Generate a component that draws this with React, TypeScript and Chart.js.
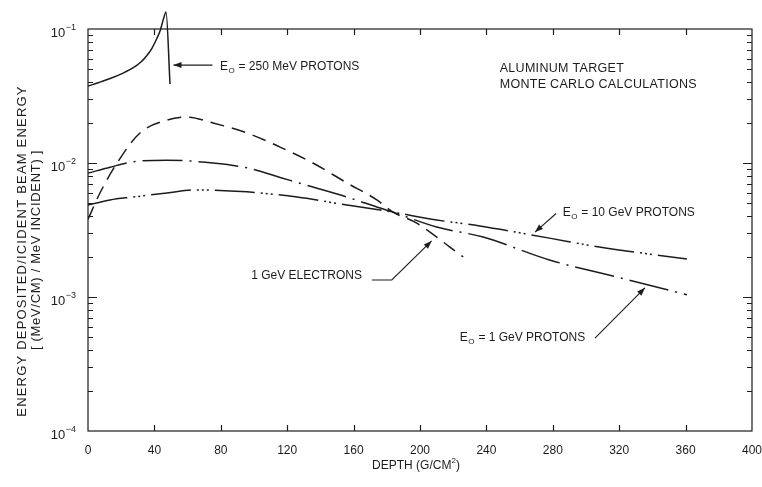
import React, { useEffect, useRef } from 'react';
import { Chart, registerables } from 'chart.js';

Chart.register(...registerables);

// ---------- data ----------
const depthTicks = [0, 40, 80, 120, 160, 200, 240, 280, 320, 360, 400];
const decadeValues = [1e-4, 1e-3, 1e-2, 1e-1];
const decadeExponents = ['\u22124', '\u22123', '\u22122', '\u22121'];

const protons250Depth = [0, 6.6, 13.3, 20.5, 27.1, 31.9, 35.5, 38.6, 41.6, 43.4, 44.6, 45.8, 47.0, 49.4];
const protons250Energy = [0.0375, 0.0399, 0.0427, 0.0465, 0.0512, 0.0567, 0.0634, 0.0721, 0.0857, 0.0966, 0.109, 0.1229, 0.134, 0.0389];

const electronsDepth = [0, 7.2, 17.5, 31.3, 47.6, 59.6, 75.3, 95.8, 115.7, 135.5, 156, 174, 183.7, 198, 218, 226];
const electronsEnergy = [0.0038, 0.00597, 0.01, 0.01675, 0.0209, 0.022, 0.0199, 0.01675, 0.01315, 0.01, 0.0071, 0.0053, 0.0043, 0.00356, 0.00236, 0.00199];

const protons1GeVDepth = [0, 13.3, 27, 47.6, 75.3, 95.8, 115.7, 135.5, 156, 176, 183.7, 210, 238, 278, 318.7, 360.8];
const protons1GeVEnergy = [0.0084, 0.0093, 0.0102, 0.0105, 0.01, 0.0092, 0.0078, 0.00662, 0.00557, 0.00461, 0.0043, 0.00333, 0.0028, 0.00189, 0.00141, 0.00104];

const protons10GeVDepth = [0, 13.3, 27, 47.6, 65.7, 95.8, 126, 156, 176, 183.7, 210, 236, 278, 308, 360.8];
const protons10GeVEnergy = [0.00486, 0.0053, 0.00557, 0.00597, 0.0063, 0.00609, 0.00557, 0.00486, 0.00446, 0.0043, 0.00376, 0.00339, 0.00275, 0.00236, 0.00192];

const yTitleLines = ['ENERGY DEPOSITED/ICIDENT BEAM ENERGY', '[ (MeV/CM) / MeV INCIDENT) ]'];
const xTitleParts = ['DEPTH (G/CM', '2', ')'];
const annotationTexts = {
  p250: ' = 250 MeV PROTONS',
  target: ['ALUMINUM TARGET', 'MONTE CARLO CALCULATIONS'],
  p10: ' = 10 GeV PROTONS',
  e1: '1 GeV ELECTRONS',
  p1: ' = 1 GeV PROTONS',
};

// ---------- layout / style (data coordinates for annotation anchors) ----------
const annotationLayout = {
  p250: { label: [79.5, 0.052], arrow: [[75, 0.0538], [51.5, 0.0538]] },
  target: { lines: [[248, 0.0503], [248, 0.0382]] },
  p10: { label: [286, 0.00424], arrow: [[282, 0.0042], [269.3, 0.00305]] },
  e1: { labelRight: [165, 0.00144], arrow: [[171, 0.00134], [183, 0.00134], [207, 0.00262]] },
  p1: { label: [224, 0.000494], arrow: [[305.4, 0.000494], [335.5, 0.00117]] },
};

const INK = '#1c1c1c';
const FONT = '"Liberation Sans", Arial, sans-serif';

const toPoints = (xs: number[], ys: number[]) => xs.map((x, i) => ({ x, y: ys[i] }));

function arrowHead(ctx: CanvasRenderingContext2D, fx: number, fy: number, tx: number, ty: number, len = 8, half = 3) {
  const a = Math.atan2(ty - fy, tx - fx);
  const c = Math.cos(a), s = Math.sin(a);
  ctx.beginPath();
  ctx.moveTo(tx, ty);
  ctx.lineTo(tx - len * c + half * s, ty - len * s - half * c);
  ctx.lineTo(tx - len * c - half * s, ty - len * s + half * c);
  ctx.closePath();
  ctx.fill();
}

function energyLabel(ctx: CanvasRenderingContext2D, x: number, y: number, rest: string) {
  ctx.textAlign = 'left';
  ctx.textBaseline = 'middle';
  ctx.font = `12px ${FONT}`;
  ctx.fillText('E', x, y);
  const w = ctx.measureText('E').width;
  ctx.font = `8px ${FONT}`;
  ctx.fillText('O', x + w + 0.5, y + 4);
  const w2 = ctx.measureText('O').width;
  ctx.font = `12px ${FONT}`;
  ctx.fillText(rest, x + w + w2 + 1, y);
}

const decorPlugin = {
  id: 'decor',
  afterDatasetsDraw(chart: any) {
    const { ctx, chartArea: a, scales } = chart;
    const xs = scales.x, ys = scales.y;
    const X = (v: number) => xs.getPixelForValue(v);
    const Y = (v: number) => ys.getPixelForValue(v);
    ctx.save();
    ctx.strokeStyle = INK;
    ctx.fillStyle = INK;
    ctx.lineWidth = 1.2;
    ctx.strokeRect(a.left, a.top, a.right - a.left, a.bottom - a.top);

    // x ticks (inside, bottom and top)
    ctx.beginPath();
    depthTicks.forEach((v) => {
      if (v === depthTicks[0] || v === depthTicks[depthTicks.length - 1]) return;
      const px = Math.round(X(v)) + 0.5;
      ctx.moveTo(px, a.bottom); ctx.lineTo(px, a.bottom - 6);
      ctx.moveTo(px, a.top); ctx.lineTo(px, a.top + 6);
    });
    // y ticks (inside, left and right)
    decadeValues.forEach((d, i) => {
      if (i === decadeValues.length - 1) return;
      for (let m = 1; m <= 9; m++) {
        const v = d * m;
        const py = Math.round(Y(v)) + 0.5;
        const len = m === 1 ? 9 : 5;
        if (m === 1 && i === 0) continue;
        ctx.moveTo(a.left, py); ctx.lineTo(a.left + len, py);
        ctx.moveTo(a.right, py); ctx.lineTo(a.right - len, py);
      }
    });
    ctx.stroke();

    // x tick labels
    ctx.font = `12px ${FONT}`;
    ctx.textAlign = 'center';
    ctx.textBaseline = 'middle';
    depthTicks.forEach((v) => ctx.fillText(String(v), X(v), a.bottom + 20));

    // y tick labels 10^-n
    decadeValues.forEach((d, i) => {
      const py = Y(d) + 4;
      const right = a.left - 12;
      ctx.font = `9px ${FONT}`;
      ctx.textAlign = 'right';
      ctx.textBaseline = 'middle';
      const sw = ctx.measureText(decadeExponents[i]).width;
      ctx.fillText(decadeExponents[i], right, py - 5);
      ctx.font = `13px ${FONT}`;
      ctx.fillText('10', right - sw - 0.5, py);
    });

    // axis titles
    ctx.save();
    ctx.translate(22, 251);
    ctx.rotate(-Math.PI / 2);
    ctx.textAlign = 'center';
    ctx.textBaseline = 'middle';
    ctx.font = `13px ${FONT}`;
    (ctx as any).letterSpacing = '1.2px';
    ctx.fillText(yTitleLines[0], 0, 0);
    ctx.restore();
    ctx.save();
    ctx.translate(36, 250);
    ctx.rotate(-Math.PI / 2);
    ctx.textAlign = 'center';
    ctx.textBaseline = 'middle';
    ctx.font = `13px ${FONT}`;
    (ctx as any).letterSpacing = '0.7px';
    ctx.fillText(yTitleLines[1], 0, 0);
    ctx.restore();

    ctx.textBaseline = 'middle';
    ctx.textAlign = 'left';
    ctx.font = `12px ${FONT}`;
    const w0 = ctx.measureText(xTitleParts[0]).width;
    const w2 = ctx.measureText(xTitleParts[2]).width;
    ctx.font = `8px ${FONT}`;
    const w1 = ctx.measureText(xTitleParts[1]).width;
    const cx = (a.left + a.right) / 2 - 4;
    const tx = cx - (w0 + w1 + w2) / 2;
    const ty = a.bottom + 35;
    ctx.font = `12px ${FONT}`;
    ctx.fillText(xTitleParts[0], tx, ty);
    ctx.font = `8px ${FONT}`;
    ctx.fillText(xTitleParts[1], tx + w0, ty - 5);
    ctx.font = `12px ${FONT}`;
    ctx.fillText(xTitleParts[2], tx + w0 + w1, ty);

    // annotations
    ctx.lineWidth = 1.1;
    const L = annotationLayout;
    // 250 MeV
    energyLabel(ctx, X(L.p250.label[0]), Y(L.p250.label[1]), annotationTexts.p250);
    {
      const [f, t] = L.p250.arrow;
      ctx.beginPath(); ctx.moveTo(X(f[0]), Y(f[1])); ctx.lineTo(X(t[0]), Y(t[1])); ctx.stroke();
      arrowHead(ctx, X(f[0]), Y(f[1]), X(t[0]), Y(t[1]));
    }
    // target text
    ctx.save();
    ctx.font = `12.5px ${FONT}`;
    (ctx as any).letterSpacing = '0.3px';
    ctx.textAlign = 'left';
    ctx.textBaseline = 'middle';
    L.target.lines.forEach((p, i) => ctx.fillText(annotationTexts.target[i], X(p[0]), Y(p[1])));
    ctx.restore();
    // 10 GeV
    energyLabel(ctx, X(L.p10.label[0]), Y(L.p10.label[1]), annotationTexts.p10);
    {
      const [f, t] = L.p10.arrow;
      ctx.beginPath(); ctx.moveTo(X(f[0]), Y(f[1])); ctx.lineTo(X(t[0]), Y(t[1])); ctx.stroke();
      arrowHead(ctx, X(f[0]), Y(f[1]), X(t[0]), Y(t[1]));
    }
    // electrons
    ctx.font = `12px ${FONT}`;
    ctx.textAlign = 'right';
    ctx.textBaseline = 'middle';
    ctx.fillText(annotationTexts.e1, X(L.e1.labelRight[0]), Y(L.e1.labelRight[1]));
    {
      const pts = L.e1.arrow;
      ctx.beginPath();
      pts.forEach((p, i) => (i ? ctx.lineTo(X(p[0]), Y(p[1])) : ctx.moveTo(X(p[0]), Y(p[1]))));
      ctx.stroke();
      const f = pts[pts.length - 2], t = pts[pts.length - 1];
      arrowHead(ctx, X(f[0]), Y(f[1]), X(t[0]), Y(t[1]));
    }
    // 1 GeV
    energyLabel(ctx, X(L.p1.label[0]), Y(L.p1.label[1]), annotationTexts.p1);
    {
      const [f, t] = L.p1.arrow;
      ctx.beginPath(); ctx.moveTo(X(f[0]), Y(f[1])); ctx.lineTo(X(t[0]), Y(t[1])); ctx.stroke();
      arrowHead(ctx, X(f[0]), Y(f[1]), X(t[0]), Y(t[1]));
    }
    ctx.restore();
  },
};

export default function App() {
  const ref = useRef<HTMLCanvasElement | null>(null);
  useEffect(() => {
    document.body.style.margin = '0';
    const canvas = ref.current;
    if (!canvas) return;
    const common = { borderColor: INK, borderWidth: 1.5, pointRadius: 0, cubicInterpolationMode: 'monotone' as const, fill: false };
    const chart = new Chart(canvas, {
      type: 'line',
      data: {
        datasets: [
          { ...common, label: 'E0 = 250 MeV protons', data: toPoints(protons250Depth, protons250Energy), clip: false as any },
          { ...common, label: '1 GeV electrons', data: toPoints(electronsDepth, electronsEnergy), borderDash: [14, 8] },
          { ...common, label: 'E0 = 1 GeV protons', data: toPoints(protons1GeVDepth, protons1GeVEnergy), borderDash: [40, 7, 2, 7] },
          { ...common, label: 'E0 = 10 GeV protons', data: toPoints(protons10GeVDepth, protons10GeVEnergy), borderDash: [40, 6, 2, 3, 2, 3, 2, 6] },
        ],
      },
      options: {
        animation: false,
        responsive: false,
        layout: { padding: { top: 29, right: 10, left: 0, bottom: 0 } },
        plugins: { legend: { display: false }, tooltip: { enabled: false } },
        scales: {
          x: {
            type: 'linear', min: 0, max: 400,
            grid: { display: false, drawTicks: false }, border: { display: false }, ticks: { display: false },
            afterFit: (s: any) => { s.height = 56; },
          },
          y: {
            type: 'logarithmic', min: 1e-4, max: 1e-1,
            grid: { display: false, drawTicks: false }, border: { display: false }, ticks: { display: false },
            afterFit: (s: any) => { s.width = 88; },
          },
        },
      },
      plugins: [decorPlugin],
    });
    return () => chart.destroy();
  }, []);
  return (
    <div style={{ position: 'absolute', left: 0, top: 0, width: 762, height: 487, background: '#fff' }}>
      <canvas ref={ref} width={762} height={487} style={{ display: 'block' }} />
    </div>
  );
}
